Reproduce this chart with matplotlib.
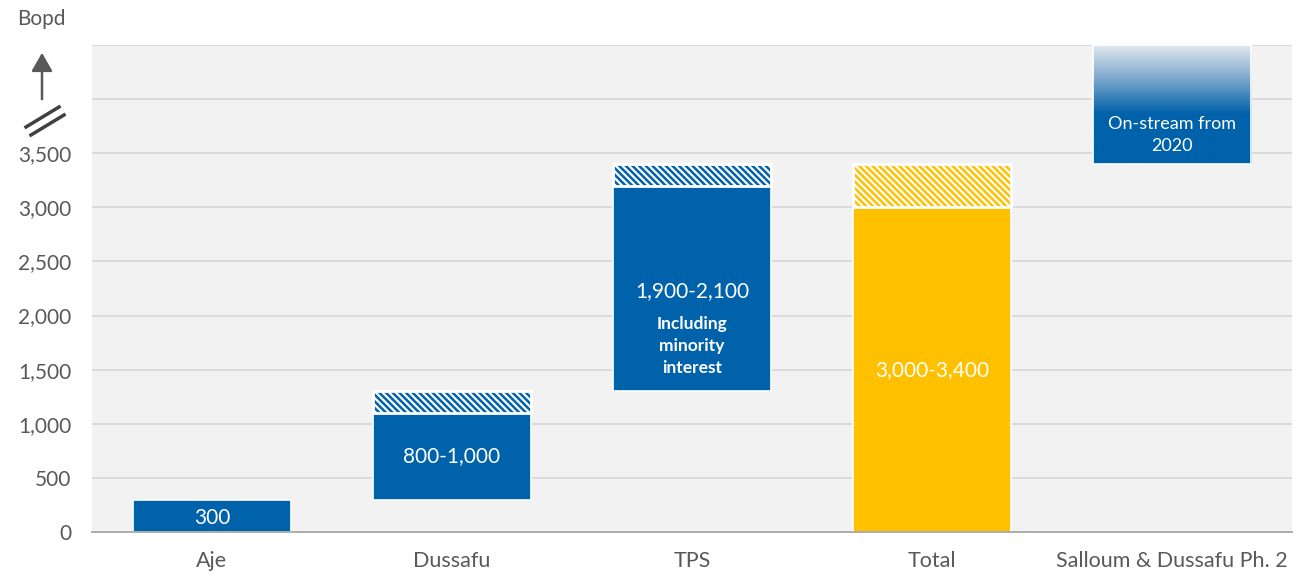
import matplotlib
matplotlib.use("Agg")
import matplotlib.pyplot as plt
import numpy as np
from matplotlib.colors import LinearSegmentedColormap
from matplotlib.lines import Line2D
from matplotlib.patches import FancyArrowPatch

plt.rcParams['font.family'] = ['Lato', 'DejaVu Sans']
plt.rcParams['hatch.linewidth'] = 1.8

# Production by asset (bopd)
categories = ["Aje", "Dussafu", "TPS", "Total", "Salloum & Dussafu Ph. 2"]
bases = [0, 300, 1300, 0, 3400]
solid_tops = [300, 1100, 3200, 3000, 4500]
range_tops = [300, 1300, 3400, 3400, 4500]
labels = ["300", "800-1,000", "1,900-2,100", "3,000-3,400", "On-stream from\n2020"]
yticks = [0, 500, 1000, 1500, 2000, 2500, 3000, 3500]
ytick_labels = ["0", "500", "1,000", "1,500", "2,000", "2,500", "3,000", "3,500"]

BLUE = "#0062AA"
YELLOW = "#FFC000"
GREY_TXT = "#595959"

fig = plt.figure(figsize=(13.1, 5.76), dpi=100)
ax = fig.add_axes([92 / 1310, 44 / 576, 1200 / 1310, 487 / 576])
ax.set_facecolor("#F2F2F2")

for g in np.arange(500, 4501, 500):
    ax.axhline(g, color="#D9D9D9", lw=1.3, zorder=1)

x = np.arange(len(categories))
w = 0.66
colors = [BLUE, BLUE, BLUE, YELLOW, BLUE]

for i in range(len(categories)):
    if i == 4:
        continue
    c = colors[i]
    ax.bar(x[i], solid_tops[i] - bases[i], w, bottom=bases[i], color=c,
           edgecolor="white", lw=1.2, zorder=3)
    if range_tops[i] > solid_tops[i]:
        ax.bar(x[i], range_tops[i] - solid_tops[i], w, bottom=solid_tops[i],
               facecolor="white", edgecolor=c, hatch="\\\\\\\\\\", lw=0, zorder=3)
        ax.bar(x[i], range_tops[i] - solid_tops[i], w, bottom=solid_tops[i],
               fill=False, edgecolor="white", lw=2.0, zorder=4)

# Future project bar with fading top
i = 4
grad = np.linspace(0, 1, 256).reshape(-1, 1)
cmap = LinearSegmentedColormap.from_list(
    "fade", [(0.0, BLUE), (0.42, BLUE), (0.72, "#7FA9CC"), (1.0, "#E6EBF0")])
ax.imshow(grad, cmap=cmap, aspect="auto", origin="lower",
          extent=(x[i] - w / 2, x[i] + w / 2, bases[i], range_tops[i]),
          zorder=3, vmin=0, vmax=1)
ax.bar(x[i], range_tops[i] - bases[i], w, bottom=bases[i], fill=False,
       edgecolor="white", lw=1.2, zorder=4)
ax.set_xlim(-0.5, len(categories) - 0.5)
ax.set_ylim(0, 4500)

# Value labels
ax.text(x[0], 130, labels[0], ha="center", va="center", color="white", fontsize=15, zorder=5)
ax.text(x[1], 700, labels[1], ha="center", va="center", color="white", fontsize=15, zorder=5)
ax.text(x[2], 2230, labels[2], ha="center", va="center", color="white", fontsize=15, zorder=5)
ax.text(x[2], 1720, "Including\nminority\ninterest", ha="center", va="center",
        color="white", fontsize=12.5, fontweight="bold", linespacing=1.45, zorder=5)
ax.text(x[3], 1500, labels[3], ha="center", va="center", color="white", fontsize=15, zorder=5)
ax.text(x[4], 3670, labels[4], ha="center", va="center", color="white", fontsize=13,
        linespacing=1.45, zorder=5)

ax.set_xticks(x)
ax.set_xticklabels(categories, fontsize=15.5, color=GREY_TXT)
ax.set_yticks(yticks)
ax.set_yticklabels(ytick_labels, fontsize=15, color=GREY_TXT)
ax.tick_params(axis="both", length=0)
ax.tick_params(axis="y", pad=15)
ax.tick_params(axis="x", pad=14)
for s in ["top", "right", "left"]:
    ax.spines[s].set_visible(False)
ax.spines["bottom"].set_color("#A6A6A6")
ax.spines["bottom"].set_linewidth(1.3)
ax.spines["bottom"].set_zorder(6)

# Axis unit, arrow and break marks
fig.text(41 / 1310, 1 - 19 / 576, "Bopd", ha="center", va="center", fontsize=15, color=GREY_TXT)
arrow = FancyArrowPatch((42 / 1310, 1 - 102 / 576), (42 / 1310, 1 - 50 / 576),
                        transform=fig.transFigure, arrowstyle="-|>,head_length=7,head_width=4",
                        color=GREY_TXT, lw=1.8, mutation_scale=1.6)
fig.add_artist(arrow)
for dx, dy in ((0, 0), (5, 8)):
    fig.add_artist(Line2D([(26 + dx) / 1310, (59 + dx) / 1310],
                          [1 - (127 + dy) / 576, 1 - (107 + dy) / 576],
                          transform=fig.transFigure, color="#404040", lw=2.5))

fig.savefig("out.png", dpi=100, facecolor="white")
